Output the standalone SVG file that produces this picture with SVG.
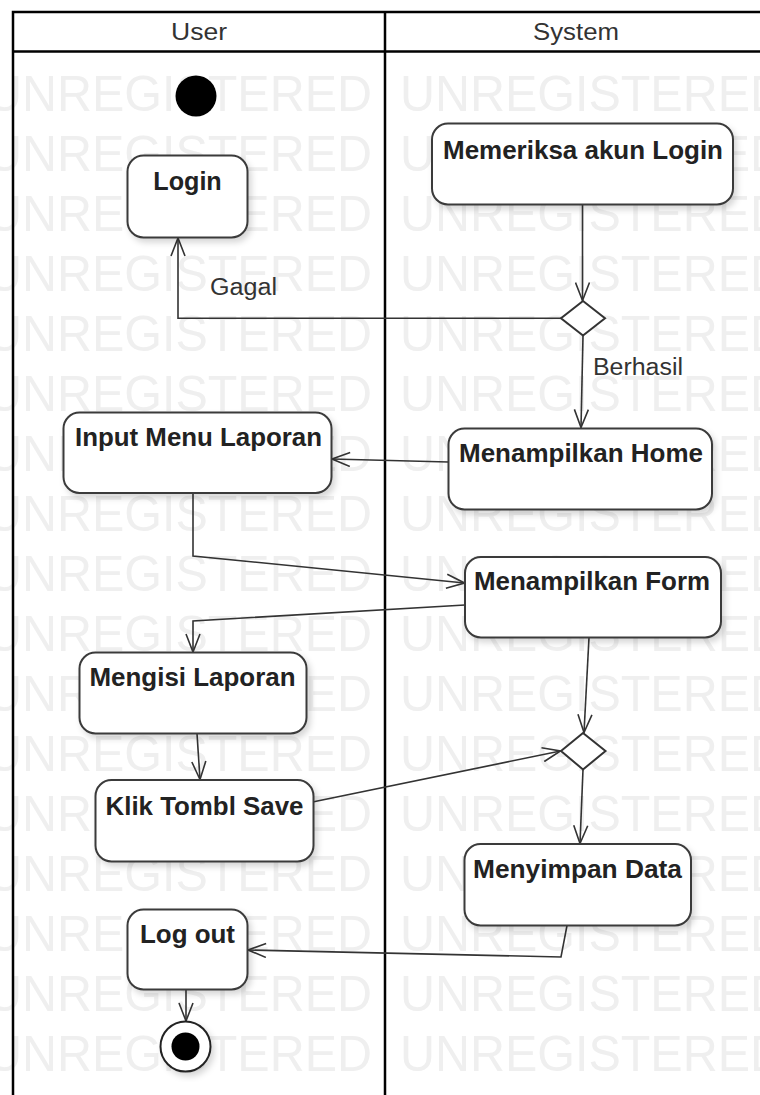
<svg xmlns="http://www.w3.org/2000/svg" width="760" height="1095" viewBox="0 0 760 1095">
  <style>
    .wm { font-family: "Liberation Sans", Arial, sans-serif; font-size: 50px; fill: #efefef; }
    .lane { fill: none; stroke: #000; stroke-width: 2.5; }
    .head { font-family: "Liberation Sans", Arial, sans-serif; font-size: 23px; fill: #333; text-anchor: middle; }
    .box { fill: #fff; stroke: #3a3a3a; stroke-width: 2; filter: url(#shadow); }
    .lbl { font-family: "Liberation Sans", Arial, sans-serif; font-size: 25px; font-weight: bold; fill: #222; text-anchor: middle; }
    .edge { fill: none; stroke: #333; stroke-width: 1.6; marker-end: url(#open); }
    .elbl { font-family: "Liberation Sans", Arial, sans-serif; font-size: 23px; fill: #333; }
    .diam { fill: #fff; stroke: #333; stroke-width: 2; }
  </style>
  <defs>
    <filter id="shadow" x="-20%" y="-20%" width="140%" height="140%">
      <feDropShadow dx="3" dy="4" stdDeviation="3" flood-color="#000" flood-opacity="0.16"/>
    </filter>
    <marker id="open" markerUnits="userSpaceOnUse" markerWidth="20" markerHeight="16" viewBox="0 0 20 16" refX="19" refY="8" orient="auto">
      <path d="M1,1 L19,8 L1,15" fill="none" stroke="#333" stroke-width="1.6"/>
    </marker>
  </defs>

  <rect x="0" y="0" width="760" height="1095" fill="#fff"/>

  <!-- evaluation watermark rows -->
  <g id="watermark">
    <text class="wm" x="-13" y="111" textLength="385" lengthAdjust="spacingAndGlyphs">UNREGISTERED</text>
    <text class="wm" x="400" y="111" textLength="385" lengthAdjust="spacingAndGlyphs">UNREGISTERED</text>
    <text class="wm" x="-13" y="171" textLength="385" lengthAdjust="spacingAndGlyphs">UNREGISTERED</text>
    <text class="wm" x="400" y="171" textLength="385" lengthAdjust="spacingAndGlyphs">UNREGISTERED</text>
    <text class="wm" x="-13" y="231" textLength="385" lengthAdjust="spacingAndGlyphs">UNREGISTERED</text>
    <text class="wm" x="400" y="231" textLength="385" lengthAdjust="spacingAndGlyphs">UNREGISTERED</text>
    <text class="wm" x="-13" y="291" textLength="385" lengthAdjust="spacingAndGlyphs">UNREGISTERED</text>
    <text class="wm" x="400" y="291" textLength="385" lengthAdjust="spacingAndGlyphs">UNREGISTERED</text>
    <text class="wm" x="-13" y="351" textLength="385" lengthAdjust="spacingAndGlyphs">UNREGISTERED</text>
    <text class="wm" x="400" y="351" textLength="385" lengthAdjust="spacingAndGlyphs">UNREGISTERED</text>
    <text class="wm" x="-13" y="411" textLength="385" lengthAdjust="spacingAndGlyphs">UNREGISTERED</text>
    <text class="wm" x="400" y="411" textLength="385" lengthAdjust="spacingAndGlyphs">UNREGISTERED</text>
    <text class="wm" x="-13" y="471" textLength="385" lengthAdjust="spacingAndGlyphs">UNREGISTERED</text>
    <text class="wm" x="400" y="471" textLength="385" lengthAdjust="spacingAndGlyphs">UNREGISTERED</text>
    <text class="wm" x="-13" y="531" textLength="385" lengthAdjust="spacingAndGlyphs">UNREGISTERED</text>
    <text class="wm" x="400" y="531" textLength="385" lengthAdjust="spacingAndGlyphs">UNREGISTERED</text>
    <text class="wm" x="-13" y="591" textLength="385" lengthAdjust="spacingAndGlyphs">UNREGISTERED</text>
    <text class="wm" x="400" y="591" textLength="385" lengthAdjust="spacingAndGlyphs">UNREGISTERED</text>
    <text class="wm" x="-13" y="651" textLength="385" lengthAdjust="spacingAndGlyphs">UNREGISTERED</text>
    <text class="wm" x="400" y="651" textLength="385" lengthAdjust="spacingAndGlyphs">UNREGISTERED</text>
    <text class="wm" x="-13" y="711" textLength="385" lengthAdjust="spacingAndGlyphs">UNREGISTERED</text>
    <text class="wm" x="400" y="711" textLength="385" lengthAdjust="spacingAndGlyphs">UNREGISTERED</text>
    <text class="wm" x="-13" y="771" textLength="385" lengthAdjust="spacingAndGlyphs">UNREGISTERED</text>
    <text class="wm" x="400" y="771" textLength="385" lengthAdjust="spacingAndGlyphs">UNREGISTERED</text>
    <text class="wm" x="-13" y="831" textLength="385" lengthAdjust="spacingAndGlyphs">UNREGISTERED</text>
    <text class="wm" x="400" y="831" textLength="385" lengthAdjust="spacingAndGlyphs">UNREGISTERED</text>
    <text class="wm" x="-13" y="891" textLength="385" lengthAdjust="spacingAndGlyphs">UNREGISTERED</text>
    <text class="wm" x="400" y="891" textLength="385" lengthAdjust="spacingAndGlyphs">UNREGISTERED</text>
    <text class="wm" x="-13" y="951" textLength="385" lengthAdjust="spacingAndGlyphs">UNREGISTERED</text>
    <text class="wm" x="400" y="951" textLength="385" lengthAdjust="spacingAndGlyphs">UNREGISTERED</text>
    <text class="wm" x="-13" y="1011" textLength="385" lengthAdjust="spacingAndGlyphs">UNREGISTERED</text>
    <text class="wm" x="400" y="1011" textLength="385" lengthAdjust="spacingAndGlyphs">UNREGISTERED</text>
    <text class="wm" x="-13" y="1071" textLength="385" lengthAdjust="spacingAndGlyphs">UNREGISTERED</text>
    <text class="wm" x="400" y="1071" textLength="385" lengthAdjust="spacingAndGlyphs">UNREGISTERED</text>
  </g>

  <!-- swimlanes -->
  <g id="swimlanes">
    <rect x="13" y="12" width="760" height="39.5" fill="#fff"/>
    <path class="lane" d="M13,1100 L13,12 L770,12 M13,51.5 L770,51.5 M385,12 L385,1100"/>
    <text class="head" x="199" y="40" textLength="56" lengthAdjust="spacingAndGlyphs">User</text>
    <text class="head" x="576" y="40" textLength="86" lengthAdjust="spacingAndGlyphs">System</text>
  </g>

  <!-- connectors -->
  <g id="connectors">
    <path class="edge" d="M582.5,204.5 L582.5,300.5"/>
    <path class="edge" d="M561,318.3 L178,318.3 L178,238"/>
    <path class="edge" d="M583,335.5 L581,427.5"/>
    <path class="edge" d="M448.5,462 L332,459"/>
    <path class="edge" d="M193,493 L193,556 L464.5,583"/>
    <path class="edge" d="M465,605 L193,621 L193,652"/>
    <path class="edge" d="M197,733.5 L200,779.5"/>
    <path class="edge" d="M313.7,801.7 L560.5,751"/>
    <path class="edge" d="M589,637.5 L584,732.5"/>
    <path class="edge" d="M583,769.5 L580,843.5"/>
    <path class="edge" d="M567,925.5 L561,957 L248,950"/>
    <path class="edge" d="M186,989.5 L186,1021"/>
    <text class="elbl" x="210" y="295" textLength="67" lengthAdjust="spacingAndGlyphs">Gagal</text>
    <text class="elbl" x="593" y="375" textLength="90" lengthAdjust="spacingAndGlyphs">Berhasil</text>
  </g>

  <!-- nodes -->
  <g id="start">
    <circle cx="196" cy="96" r="20.5" fill="#000"/>
  </g>
  <g id="login">
    <rect class="box" x="127.5" y="155.5" width="120" height="82" rx="16"/>
    <text class="lbl" x="187.5" y="190" textLength="68.5" lengthAdjust="spacingAndGlyphs">Login</text>
  </g>
  <g id="memeriksa-akun-login">
    <rect class="box" x="432" y="123.5" width="301" height="81" rx="16"/>
    <text class="lbl" x="583" y="159" textLength="280" lengthAdjust="spacingAndGlyphs">Memeriksa akun Login</text>
  </g>
  <g id="decision-login">
    <polygon class="diam" points="583,301 605,318.3 583,335.5 561,318.3"/>
  </g>
  <g id="menampilkan-home">
    <rect class="box" x="448.5" y="428.5" width="263.5" height="81" rx="16"/>
    <text class="lbl" x="581" y="462" textLength="244" lengthAdjust="spacingAndGlyphs">Menampilkan Home</text>
  </g>
  <g id="input-menu-laporan">
    <rect class="box" x="63.5" y="412.5" width="268" height="80.5" rx="16"/>
    <text class="lbl" x="198.5" y="446" textLength="247" lengthAdjust="spacingAndGlyphs">Input Menu Laporan</text>
  </g>
  <g id="menampilkan-form">
    <rect class="box" x="465" y="557" width="256" height="80.5" rx="16"/>
    <text class="lbl" x="592" y="590" textLength="236" lengthAdjust="spacingAndGlyphs">Menampilkan Form</text>
  </g>
  <g id="mengisi-laporan">
    <rect class="box" x="79.5" y="652.5" width="227" height="81" rx="16"/>
    <text class="lbl" x="192.5" y="686" textLength="206" lengthAdjust="spacingAndGlyphs">Mengisi Laporan</text>
  </g>
  <g id="klik-tombl-save">
    <rect class="box" x="95.5" y="780" width="218" height="81.5" rx="16"/>
    <text class="lbl" x="204.5" y="815" textLength="198" lengthAdjust="spacingAndGlyphs">Klik Tombl Save</text>
  </g>
  <g id="decision-save">
    <polygon class="diam" points="583,733 605.5,751 583,769.5 561,751"/>
  </g>
  <g id="menyimpan-data">
    <rect class="box" x="464.5" y="844" width="226.5" height="81.5" rx="16"/>
    <text class="lbl" x="577.5" y="878" textLength="209" lengthAdjust="spacingAndGlyphs">Menyimpan Data</text>
  </g>
  <g id="log-out">
    <rect class="box" x="127.5" y="909.5" width="120" height="80" rx="16"/>
    <text class="lbl" x="187.5" y="943" textLength="95" lengthAdjust="spacingAndGlyphs">Log out</text>
  </g>
  <g id="end">
    <circle cx="185.5" cy="1046.5" r="25" fill="#fff" stroke="#222" stroke-width="2" filter="url(#shadow)"/>
    <circle cx="185.5" cy="1046.5" r="14" fill="#000"/>
  </g>
</svg>
